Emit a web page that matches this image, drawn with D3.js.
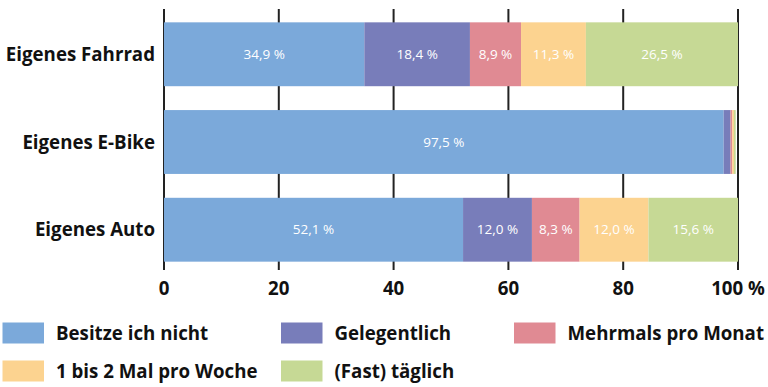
<!DOCTYPE html>
<html><head><meta charset="utf-8">
<script src="https://cdn.jsdelivr.net/npm/d3@7"></script>
<style>body{margin:0;background:#fff;} svg{display:block;}</style>
</head><body>
<svg id="c" width="768" height="387"></svg>
<script>
const categories = ["Eigenes Fahrrad", "Eigenes E-Bike", "Eigenes Auto"];
const seriesNames = ["Besitze ich nicht", "Gelegentlich", "Mehrmals pro Monat", "1 bis 2 Mal pro Woche", "(Fast) täglich"];
const besitzeNicht = [34.9, 97.5, 52.1];
const gelegentlich = [18.4, 1.2, 12.0];
const mehrmalsMonat = [8.9, 0.3, 8.3];
const proWoche = [11.3, 0.3, 12.0];
const taeglich = [26.5, 0.3, 15.6];
const showLabel = [[true,true,true,true,true],[true,false,false,false,false],[true,true,true,true,true]];
const tickValues = [0, 20, 40, 60, 80, 100];
const colors = ["#7BA9DA", "#787DBA", "#E08A93", "#FCD390", "#C6D995"];

const seriesVals = [besitzeNicht, gelegentlich, mehrmalsMonat, proWoche, taeglich];
const rows = categories.map((c, i) => {
  const o = {cat: c, idx: i};
  seriesNames.forEach((s, j) => o[s] = seriesVals[j][i]);
  return o;
});
const stack = d3.stack().keys(seriesNames)(rows);

const svg = d3.select("#c");
const font = "'Open Sans', sans-serif";
const x = d3.scaleLinear().domain([0, 100]).range([164, 738]);
const y = d3.scaleBand().domain(categories).range([9, 275]).paddingInner(0.272).paddingOuter(0.152);

// grid lines
svg.append("g").selectAll("line").data(tickValues).join("line")
  .attr("x1", d => x(d)).attr("x2", d => x(d))
  .attr("y1", 9).attr("y2", 270)
  .attr("stroke", "#222").attr("stroke-width", 2);

// bars
const g = svg.append("g");
stack.forEach((layer, j) => {
  g.append("g").selectAll("rect").data(layer).join("rect")
    .attr("x", d => x(d[0]))
    .attr("width", d => x(d[1]) - x(d[0]))
    .attr("y", d => y(d.data.cat))
    .attr("height", y.bandwidth())
    .attr("fill", colors[j]);
});
// value labels
stack.forEach((layer, j) => {
  g.append("g").selectAll("text").data(layer.filter((d, i) => showLabel[i][j])).join("text")
    .attr("x", d => (x(d[0]) + x(d[1])) / 2)
    .attr("y", d => y(d.data.cat) + y.bandwidth() / 2)
    .attr("dy", "0.35em")
    .attr("text-anchor", "middle")
    .attr("fill", "#fff")
    .attr("font-family", font)
    .attr("font-size", 13.5)
    .text(d => (d[1] - d[0]).toFixed(1).replace(".", ",") + " %");
});

const fs = 18.7;
// category labels
svg.append("g").selectAll("text").data(categories).join("text")
  .attr("x", 155).attr("y", d => y(d) + y.bandwidth() / 2)
  .attr("dy", "0.35em").attr("text-anchor", "end")
  .attr("font-family", font).attr("font-weight", "bold").attr("font-size", fs)
  .attr("fill", "#111").text(d => d);

// x axis tick labels
svg.append("g").selectAll("text").data(tickValues).join("text")
  .attr("x", d => x(d)).attr("y", 295)
  .attr("text-anchor", "middle")
  .attr("font-family", font).attr("font-weight", "bold").attr("font-size", fs)
  .attr("fill", "#111").text(d => d === 100 ? "100 %" : d);

// legend
const legPos = [[2.5, 322.5], [281, 322.5], [514, 322.5], [2.5, 360.5], [281, 360.5]];
const leg = svg.append("g").selectAll("g").data(seriesNames).join("g")
  .attr("transform", (d, i) => `translate(${legPos[i][0]},${legPos[i][1]})`);
leg.append("rect").attr("width", 41.5).attr("height", 21).attr("fill", (d, i) => colors[i]);
leg.append("text").attr("x", 53.5).attr("y", 10.5).attr("dy", "0.36em")
  .attr("font-family", font).attr("font-weight", "bold").attr("font-size", fs)
  .attr("fill", "#111").text(d => d);
</script>
</body></html>
